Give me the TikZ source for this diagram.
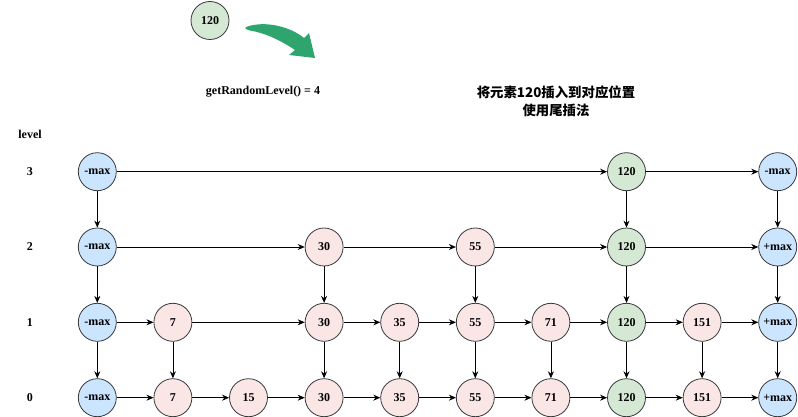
\documentclass[tikz,border=0pt]{standalone}
\usepackage{fontspec}
\setmainfont{Liberation Serif}
\newfontfamily\cjk{Noto Sans CJK SC}
\usetikzlibrary{arrows.meta}
\definecolor{bluef}{HTML}{CCE5FF}
\definecolor{pinkf}{HTML}{FAE6E4}
\definecolor{greenf}{HTML}{D5E8D4}
\definecolor{strokec}{HTML}{36393D}
\definecolor{arrowgreen}{HTML}{2EA56C}
\tikzset{
  nd/.style={circle, draw=strokec, line width=0.8pt, minimum size=38pt, inner sep=0pt},
  bnd/.style={nd, fill=bluef},
  pnd/.style={nd, fill=pinkf},
  gnd/.style={nd, fill=greenf},
  arr/.style={-{Stealth[length=7pt,width=6pt]}, line width=0.8pt, black},
  lbl/.style={inner sep=0pt}
}
\begin{document}
\begin{tikzpicture}[x=1pt,y=-1pt,font=\fontsize{12}{14}\selectfont\bfseries]
\useasboundingbox (0,0) rectangle (798,417);
% top
\node[gnd] (new) at (210,20.5) {120};
\fill[arrowgreen] (246,27) .. controls (265,20) and (291,27) .. (304,38) -- (309,33) -- (315,58) -- (289,55) -- (295,50) .. controls (280,40) and (265,33) .. (250,30.5) .. controls (247,30) and (244,28) .. (246,27) -- cycle;
\node[lbl] (grl) at (263,92) {getRandomLevel() = 4};
\node[lbl, font=\fontsize{13.4}{17.3}\selectfont\cjk\bfseries, align=center] (cn) at (556,101.3) {将元素120插入到对应位置\\使用尾插法};
% levels
\node[lbl] (lv) at (30,134) {level};
\node[lbl] (l3) at (30,171.7) {3};
\node[lbl] (l2) at (30,247) {2};
\node[lbl] (l1) at (30,322.3) {1};
\node[lbl] (l0) at (30,397.7) {0};
% row 3
\node[bnd] (a3) at (97.3,171.7) {-max};
\node[gnd] (h3) at (626.5,171.7) {120};
\node[bnd] (j3) at (777.7,171.7) {-max};
% row 2
\node[bnd] (a2) at (97.3,247) {-max};
\node[pnd] (d2) at (324.1,247) {30};
\node[pnd] (f2) at (475.3,247) {55};
\node[gnd] (h2) at (626.5,247) {120};
\node[bnd] (j2) at (777.7,247) {+max};
% row 1
\node[bnd] (a1) at (97.3,322.3) {-max};
\node[pnd] (b1) at (172.9,322.3) {7};
\node[pnd] (d1) at (324.1,322.3) {30};
\node[pnd] (e1) at (399.7,322.3) {35};
\node[pnd] (f1) at (475.3,322.3) {55};
\node[pnd] (g1) at (550.9,322.3) {71};
\node[gnd] (h1) at (626.5,322.3) {120};
\node[pnd] (i1) at (702.1,322.3) {151};
\node[bnd] (j1) at (777.7,322.3) {+max};
% row 0
\node[bnd] (a0) at (97.3,397.7) {-max};
\node[pnd] (b0) at (172.9,397.7) {7};
\node[pnd] (c0) at (248.5,397.7) {15};
\node[pnd] (d0) at (324.1,397.7) {30};
\node[pnd] (e0) at (399.7,397.7) {35};
\node[pnd] (f0) at (475.3,397.7) {55};
\node[pnd] (g0) at (550.9,397.7) {71};
\node[gnd] (h0) at (626.5,397.7) {120};
\node[pnd] (i0) at (702.1,397.7) {151};
\node[bnd] (j0) at (777.7,397.7) {+max};
% horizontal
\draw[arr] (a3) -- (h3);
\draw[arr] (h3) -- (j3);
\foreach \u/\v in {a2/d2,d2/f2,f2/h2,h2/j2,
  a1/b1,b1/d1,d1/e1,e1/f1,f1/g1,g1/h1,h1/i1,i1/j1,
  a0/b0,b0/c0,c0/d0,d0/e0,e0/f0,f0/g0,g0/h0,h0/i0,i0/j0}
  \draw[arr] (\u) -- (\v);
% vertical
\foreach \u/\v in {a3/a2,h3/h2,j3/j2,
  a2/a1,d2/d1,f2/f1,h2/h1,j2/j1,
  a1/a0,b1/b0,d1/d0,e1/e0,f1/f0,g1/g0,h1/h0,i1/i0,j1/j0}
  \draw[arr] (\u) -- (\v);
\end{tikzpicture}
\end{document}
